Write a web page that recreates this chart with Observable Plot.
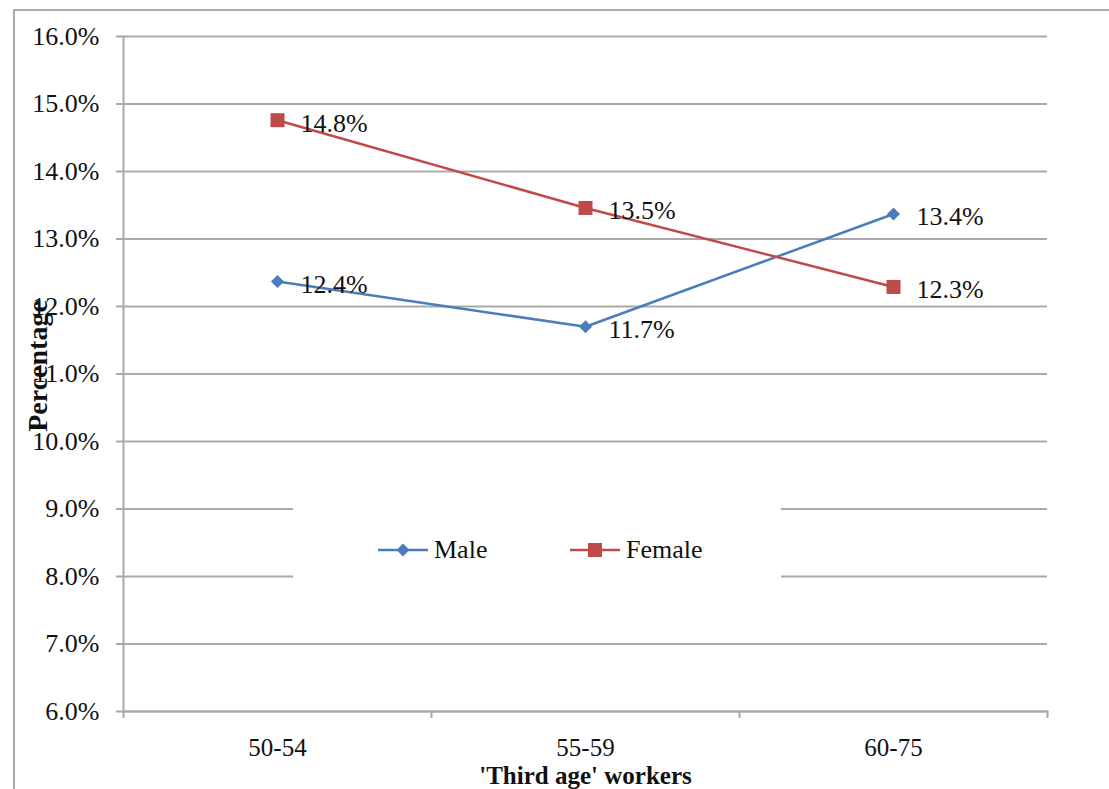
<!DOCTYPE html>
<html>
<head>
<meta charset="utf-8">
<script src="https://cdn.jsdelivr.net/npm/d3@7"></script>
<script src="https://cdn.jsdelivr.net/npm/@observablehq/plot@0.6"></script>
<style>
  html, body { margin: 0; padding: 0; background: #fff; overflow: hidden; }
  #wrap { position: relative; width: 1109px; height: 789px; }
  #chart svg, #chart svg text { font-family: "Liberation Serif", serif !important; }
  #border { position: absolute; left: 13px; top: 9px; width: 2000px; height: 2000px;
            border-top: 2px solid #a9a9a9; border-left: 2px solid #a9a9a9; box-sizing: border-box; }
  #legend { position: absolute; left: 293px; top: 500px; width: 488px; height: 100px; background: #fff;
            font-family: "Liberation Serif", serif; font-size: 26px; color: #111; }
  #legend span { position: absolute; top: 50px; transform: translateY(-50%); white-space: nowrap; }
  #legend svg { position: absolute; top: 40px; }
</style>
</head>
<body>
<div id="wrap">
  <div id="border"></div>
  <div id="chart"></div>
  <div id="legend"></div>
</div>
<script>
const categories = ["50-54", "55-59", "60-75"];
const maleValues = [12.37, 11.70, 13.37];
const femaleValues = [14.76, 13.46, 12.29];
const maleLabels = ["12.4%", "11.7%", "13.4%"];
const femaleLabels = ["14.8%", "13.5%", "12.3%"];
const yTicks = [6, 7, 8, 9, 10, 11, 12, 13, 14, 15, 16];
const seriesNames = ["Male", "Female"];
const colors = ["#4a7ebb", "#be4b48"];

const male = categories.map((c, i) => ({i, v: maleValues[i], label: maleLabels[i]}));
const female = categories.map((c, i) => ({i, v: femaleValues[i], label: femaleLabels[i]}));

const font = "Liberation Serif, serif";
const gridColor = "#a9a9a9";

const chart = Plot.plot({
  width: 1109,
  height: 789,
  marginLeft: 123,
  marginRight: 62,
  marginTop: 36,
  marginBottom: 78,
  style: {fontFamily: font, background: "transparent", color: "#111"},
  x: {type: "linear", domain: [-0.5, categories.length - 0.5]},
  y: {domain: [6, 16]},
  marks: [
    Plot.gridY(yTicks, {stroke: gridColor, strokeOpacity: 1, strokeWidth: 2}),
    Plot.axisY({ticks: yTicks, tickFormat: d => d.toFixed(1) + "%", tickSize: 7, tickPadding: 17,
      fontSize: 26, stroke: gridColor, strokeWidth: 2, strokeOpacity: 1, label: null, fill: "#111"}),
    Plot.axisX({ticks: d3.range(-0.5, categories.length), tickFormat: () => "", tickSize: 7,
      stroke: gridColor, strokeWidth: 2, strokeOpacity: 1, label: null}),
    Plot.axisX({ticks: d3.range(categories.length), tickFormat: i => categories[i], tickSize: 0,
      tickPadding: 27, fontSize: 25, label: null, fill: "#111"}),
    Plot.frame({anchor: "left", stroke: gridColor, strokeWidth: 2}),
    Plot.frame({anchor: "bottom", stroke: gridColor, strokeWidth: 2}),
    Plot.line(male, {x: "i", y: "v", stroke: colors[0], strokeWidth: 2.5}),
    Plot.line(female, {x: "i", y: "v", stroke: colors[1], strokeWidth: 2.5}),
    Plot.dot(male, {x: "i", y: "v", symbol: "diamond2", r: 5.9, fill: colors[0], stroke: "none"}),
    Plot.dot(female, {x: "i", y: "v", symbol: "square", r: 7.9, fill: colors[1], stroke: "none"}),
    Plot.text(male, {x: "i", y: "v", text: "label", dx: 23, dy: 3, textAnchor: "start", fontSize: 26, fill: "#111"}),
    Plot.text(female, {x: "i", y: "v", text: "label", dx: 23, dy: 3, textAnchor: "start", fontSize: 26, fill: "#111"}),
    Plot.text(["Percentage"], {frameAnchor: "left", dx: -85, dy: -8, rotate: -90, textAnchor: "middle", lineAnchor: "middle",
      fontSize: 28, fontWeight: "bold", fill: "#111"}),
    Plot.text(["'Third age' workers"], {frameAnchor: "bottom", dy: 64.5, textAnchor: "middle", lineAnchor: "middle",
      fontSize: 25, fontWeight: "bold", fill: "#111"})
  ]
});
document.getElementById("chart").appendChild(chart);

// Legend (HTML, placed over the chart)
const legend = document.getElementById("legend");
const swatchLeft = [85, 277];
seriesNames.forEach((name, k) => {
  const ns = "http://www.w3.org/2000/svg";
  const svg = document.createElementNS(ns, "svg");
  svg.setAttribute("width", 50); svg.setAttribute("height", 20);
  svg.style.left = swatchLeft[k] + "px";
  const line = document.createElementNS(ns, "line");
  line.setAttribute("x1", 0); line.setAttribute("x2", 50); line.setAttribute("y1", 10); line.setAttribute("y2", 10);
  line.setAttribute("stroke", colors[k]); line.setAttribute("stroke-width", 2.5);
  svg.appendChild(line);
  const sym = document.createElementNS(ns, "path");
  sym.setAttribute("d", k === 0 ? "M25,3.5L31.5,10L25,16.5L18.5,10Z" : "M18,3H32V17H18Z");
  sym.setAttribute("fill", colors[k]);
  svg.appendChild(sym);
  legend.appendChild(svg);
  const span = document.createElement("span");
  span.textContent = name;
  span.style.left = (swatchLeft[k] + 56) + "px";
  legend.appendChild(span);
});
</script>
</body>
</html>
